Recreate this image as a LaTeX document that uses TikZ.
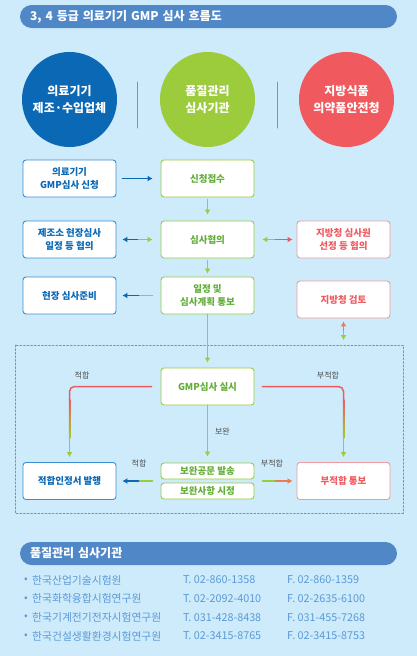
\documentclass[tikz,border=0pt]{standalone}
\usepackage{fontspec}
\setmainfont{Noto Sans CJK KR}
\usetikzlibrary{arrows.meta,positioning,calc}
\definecolor{fondo}{HTML}{CDEBFA}
\definecolor{barra}{HTML}{4F87C7}
\definecolor{azul}{HTML}{0A68B4}
\definecolor{azulbox}{HTML}{3C8FD3}
\definecolor{verde}{HTML}{9CCB3B}
\definecolor{verdetxt}{HTML}{62AE38}
\definecolor{rojo}{HTML}{F05A5F}
\definecolor{rojobox}{HTML}{F29A9A}
\definecolor{naranja}{HTML}{EE7C50}
\definecolor{gris}{HTML}{8A9298}
\definecolor{lista}{HTML}{5C9AD6}

\tikzset{
  titlebar/.style={fill=barra, rounded corners=11.5pt, minimum height=23pt, text width=357pt,
    inner xsep=10pt, align=left, text=white, font=\bfseries\fontsize{12}{13}\selectfont},
  bigcircle/.style={circle, minimum size=95pt, text=white, align=center,
    font=\bfseries\fontsize{12}{17}\selectfont},
  flowbox/.style={draw, fill=white, rounded corners=3pt, line width=0.9pt, minimum width=93pt,
    minimum height=37pt, align=center, font=\bfseries\fontsize{9.5}{13}\selectfont},
  bluebox/.style={flowbox, draw=azulbox, text=azul},
  greenbox/.style={flowbox, draw=verde, text=verdetxt},
  redbox/.style={flowbox, draw=rojobox, text=rojo},
  flow/.style={line width=1.5pt, -{Latex[length=5pt,width=6pt]}},
  bare/.style={line width=1.5pt},
  tag/.style={font=\fontsize{8}{9}\selectfont, text=black!70},
  listtext/.style={anchor=west, text=lista, font=\fontsize{10.8}{12}\selectfont, inner sep=0pt}
}

\begin{document}
\begin{tikzpicture}[x=1pt, y=-1pt, line cap=round, line join=round]
  \fill[fondo] (0,0) rectangle (417,656);
  \node[titlebar] (title) at (208.5,16.5) {3, 4 등급 의료기기 GMP 심사 흐름도};

  % Three parties
  \node[bigcircle, fill=azul] (maker) at (69.5,99.5) {의료기기\\제조·수입업체};
  \node[bigcircle, fill=verde] (agency) at (207.5,99.5) {품질관리\\심사기관};
  \node[bigcircle, fill=rojo] (office) at (346.5,99.5) {지방식품\\의약품안전청};
  \draw[gris, line width=1pt] (137,82) -- (137,128);
  \draw[gris, line width=1pt] (277,82) -- (277,128);

  % Flow boxes
  \node[bluebox] (apply) at (69.5,178.5) {의료기기\\GMP심사 신청};
  \node[greenbox] (receive) at (207.5,178.5) {신청접수};
  \node[bluebox] (schedule) at (69.5,239.5) {제조소 현장심사\\일정 등 협의};
  \node[greenbox] (consult) at (207.5,239.5) {심사협의};
  \node[redbox] (inspector) at (343.5,239.5) {지방청 심사원\\선정 등 협의};
  \node[bluebox] (prepare) at (69.5,295.5) {현장 심사준비};
  \node[greenbox] (plan) at (207.5,295.5) {일정 및\\심사계획 통보};
  \node[redbox] (review) at (343.5,299.5) {지방청 검토};

  \draw[flow, azul, shorten <=6pt, shorten >=8pt] (apply) -- (receive);
  \draw[flow, verde, shorten <=2pt, shorten >=6pt] (receive) -- (consult);
  \draw[flow, verde, shorten <=2pt, shorten >=3pt] (consult) -- (plan);

  % double arrows, coloured per half
  \coordinate (m1) at ($(schedule.east)!0.5!(consult.west)$);
  \draw[flow, azul, shorten >=6pt] (m1) -- (schedule.east);
  \draw[flow, verde, shorten >=8pt] (m1) -- (consult.west);
  \coordinate (m2) at ($(consult.east)!0.5!(inspector.west)$);
  \draw[flow, verde, shorten >=8pt] (m2) -- (consult.east);
  \draw[flow, rojo, shorten >=4pt] (m2) -- (inspector.west);
  \coordinate (m3) at ($(prepare.east)!0.5!(plan.west)$);
  \draw[bare, verde] ([xshift=-8pt]plan.west) -- (m3);
  \draw[flow, azul, shorten >=6pt] (m3) -- (prepare.east);

  % inspection block
  \draw[gris, line width=0.6pt, dash pattern=on 2pt off 1.6pt] (15,345) rectangle (403,513);
  \coordinate (blocktop) at (343.5,345);
  \coordinate (m4) at ($(review.south)!0.5!(blocktop)$);
  \draw[flow, naranja, shorten >=3pt] (m4) -- (review.south);
  \draw[flow, verde, shorten >=5pt] (m4) -- (blocktop);

  \node[greenbox] (audit) at (207.5,386.5) {GMP심사 실시};
  \draw[flow, verde, shorten <=0pt, shorten >=5pt] (plan) -- (audit);

  \node[bluebox] (issue) at (69.5,481) {적합인정서 발행};
  \node[redbox] (notify) at (343.5,481) {부적합 통보};
  \node[greenbox, minimum height=16pt, font=\bfseries\fontsize{9.5}{11}\selectfont] (notice) at (207.5,471) {보완공문 발송};
  \node[greenbox, minimum height=16pt, font=\bfseries\fontsize{9.5}{11}\selectfont] (correct) at (207.5,491) {보완사항 시정};

  % pass branch
  \draw[bare, rojo, rounded corners=5pt] ([xshift=-9pt]audit.west) -| ($(issue.north)+(0,-62)$);
  \shade[top color=rojo, bottom color=verde] ($(issue.north)+(-0.75,-63)$) rectangle ($(issue.north)+(0.75,-24)$);
  \draw[flow, verde, shorten >=5pt] ($(issue.north)+(0,-25)$) -- (issue.north);
  \node[tag] (passlbl) at (82,375) {적합};
  % fail branch
  \draw[bare, rojo, rounded corners=5pt] ([xshift=8pt]audit.east) -| ($(notify.north)+(0,-62)$);
  \shade[top color=rojo, bottom color=verde] ($(notify.north)+(-0.75,-63)$) rectangle ($(notify.north)+(0.75,-24)$);
  \draw[flow, verde, shorten >=5pt] ($(notify.north)+(0,-25)$) -- (notify.north);
  \node[tag] (faillbl) at (328,375) {부적합};
  % supplement
  \draw[flow, verde, shorten >=6pt] (audit) -- (notice);
  \node[tag, right=4pt of $(audit.south)!0.45!(notice.north)$] (fixlbl) {보완};

  \coordinate (fixmid) at ($(notice.south)!0.5!(correct.north)$);
  \coordinate (m5) at ($(issue.east)!0.5!(fixmid -| notice.west)$);
  \draw[bare, verde] ([xshift=-8pt]fixmid -| notice.west) -- (m5);
  \draw[flow, azul, shorten >=6pt] (m5) -- (fixmid -| issue.east);
  \node[tag] (passlbl2) at (139,463) {적합};
  \coordinate (m6) at ($(notify.west)!0.5!(fixmid -| notice.east)$);
  \draw[bare, verde] ([xshift=8pt]fixmid -| notice.east) -- (m6);
  \draw[flow, naranja, shorten >=4pt] (m6) -- (fixmid -| notify.west);
  \node[tag] (faillbl2) at (272,463) {부적합};

  % contact list
  \node[titlebar] (listtitle) at (208.5,553.5) {품질관리 심사기관};
  \foreach \i/\org/\tel/\fax in {0/한국산업기술시험원/02-860-1358/02-860-1359,
      1/한국화학융합시험연구원/02-2092-4010/02-2635-6100,
      2/한국기계전기전자시험연구원/031-428-8438/031-455-7268,
      3/한국건설생활환경시험연구원/02-3415-8765/02-3415-8753} {
    \node[listtext] (bul\i) at (24,580+18.7*\i) {•};
    \node[listtext] (org\i) at (32,580+18.7*\i) {\org};
    \node[listtext] (tel\i) at (183,580+18.7*\i) {T. \tel};
    \node[listtext] (fax\i) at (287,580+18.7*\i) {F. \fax};
  }
\end{tikzpicture}
\end{document}
